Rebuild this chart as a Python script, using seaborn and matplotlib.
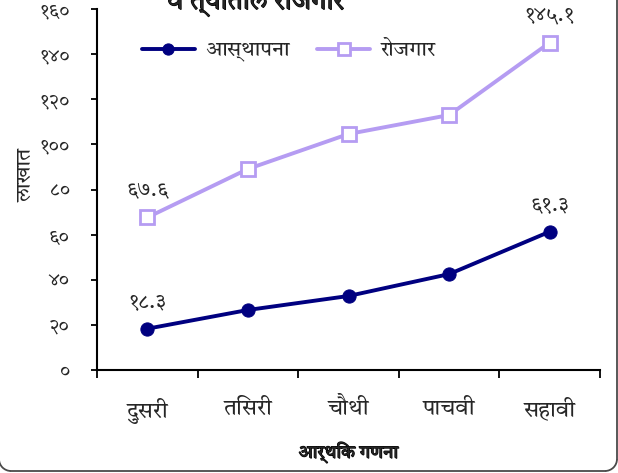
import matplotlib
matplotlib.use("Agg")
import matplotlib.pyplot as plt
from matplotlib import font_manager
from matplotlib.patches import Arc
from matplotlib.lines import Line2D
import matplotlib.patheffects as pe
import seaborn as sns
import pandas as pd

# Census rounds (x axis) and the two series, in lakhs
censuses = ["दुसरी", "तिसरी", "चौथी", "पाचवी", "सहावी"]
establishments = [18.3, 26.6, 32.8, 42.5, 61.3]
employment = [67.6, 89.1, 104.6, 113.0, 145.1]
series_names = ["आस्थापना", "रोजगार"]
y_ticks = [0, 20, 40, 60, 80, 100, 120, 140, 160]

title_text = "व त्यातील रोजगार"
x_label = "आर्थिक गणना"
y_label = "लाखात"

DEV_DIGITS = str.maketrans("0123456789", "०१२३४५६७८९")


def dev(s):
    return str(s).translate(DEV_DIGITS)


def find_devanagari_font():
    try:
        from fontTools.ttLib import TTFont
    except Exception:
        return None
    found = []
    for path in font_manager.findSystemFonts():
        try:
            f = TTFont(path, fontNumber=0, lazy=True)
            cmap = f.getBestCmap() or {}
            if ord("आ") in cmap and ord("१") in cmap:
                found.append(path)
        except Exception:
            continue
    if not found:
        return None
    for p in found:
        try:
            font_manager.fontManager.addfont(p)
        except Exception:
            pass
    found.sort(key=lambda p: (0 if "Devanagari" in p else 1, 0 if "Regular" in p else 1))
    return font_manager.FontProperties(fname=found[0]).get_name()


sns.set_style("white")
dev_font = find_devanagari_font()
families = ([dev_font] if dev_font else []) + ["DejaVu Sans"]
plt.rcParams["font.family"] = families

NAVY = "#000080"
LAVENDER = "#B59CF2"
FRAME = "#4a4a4a"
# thickened strokes for the bold headings
BOLD = [pe.withStroke(linewidth=0.9, foreground="black")]

fig = plt.figure(figsize=(6.18, 4.73), dpi=100)
ax = fig.add_axes([97 / 618, 1 - 370 / 473, 503 / 618, 361 / 473])

df_est = pd.DataFrame({"census": censuses, "value": establishments})
df_emp = pd.DataFrame({"census": censuses, "value": employment})

sns.lineplot(data=df_est, x="census", y="value", ax=ax, color=NAVY, linewidth=2.8,
             marker="o", markersize=9.5, markerfacecolor=NAVY, markeredgecolor=NAVY,
             label=series_names[0])
sns.lineplot(data=df_emp, x="census", y="value", ax=ax, color=LAVENDER, linewidth=2.8,
             marker="s", markersize=9.5, markerfacecolor="white", markeredgecolor=LAVENDER,
             markeredgewidth=2, label=series_names[1])

ax.set_xlim(-0.5, len(censuses) - 0.5)
ax.set_ylim(0, 160)
ax.set_yticks(y_ticks)
ax.set_yticklabels([dev(t) for t in y_ticks], fontsize=14)
ax.set_xticks(range(len(censuses)))
ax.set_xticklabels(censuses, fontsize=16)
ax.set_xticks([i - 0.5 for i in range(len(censuses) + 1)], minor=True)
ax.tick_params(axis="x", which="major", bottom=True, length=0, pad=20)
ax.tick_params(axis="x", which="minor", bottom=True, length=6, width=1.3,
               color="black", direction="out")
ax.tick_params(axis="y", which="major", left=True, length=4.5, width=1.3,
               color="black", direction="out", pad=15)

for side in ["top", "right"]:
    ax.spines[side].set_visible(False)
for side in ["left", "bottom"]:
    ax.spines[side].set_color("black")
    ax.spines[side].set_linewidth(1.5)

xl = ax.set_xlabel(x_label, fontsize=13, fontweight="bold", labelpad=13)
xl.set_path_effects(BOLD)
ax.set_ylabel(y_label, fontsize=15)
ax.yaxis.set_label_coords(-0.121, 0.54)

# Value labels at the first and last points of each series
for vals in (establishments, employment):
    for i in (0, len(vals) - 1):
        ax.annotate(dev(f"{vals[i]:.1f}"), (i, vals[i]), xytext=(0, 12),
                    textcoords="offset points", ha="center", va="bottom", fontsize=15)

leg = ax.legend(loc="upper left", bbox_to_anchor=(0.052, 0.965), ncol=2, frameon=False,
                fontsize=15, handlelength=2.55, columnspacing=1.3, handletextpad=0.5,
                markerscale=0.85)

title = fig.text(256 / 618, 1 - 9 / 473, title_text, ha="center", va="baseline",
                 fontsize=19, fontweight="bold")
title.set_path_effects(BOLD)

# Rounded frame around the chart, laid out in inches so the corners stay circular
tr = fig.dpi_scale_trans
r = 0.12
left_x, right_x, bottom_y, top_y = -0.01, 6.17, 0.02, 4.8
frame_kw = dict(color=FRAME, linewidth=1.3, transform=tr, clip_on=False)
fig.add_artist(Line2D([left_x + r, right_x - r], [bottom_y, bottom_y], **frame_kw))
fig.add_artist(Line2D([right_x, right_x], [bottom_y + r, top_y], **frame_kw))
fig.add_artist(Line2D([left_x, left_x], [bottom_y + r, top_y], **frame_kw))
fig.add_artist(Arc((left_x + r, bottom_y + r), 2 * r, 2 * r, theta1=180, theta2=270,
                   edgecolor=FRAME, linewidth=1.3, transform=tr, clip_on=False))
fig.add_artist(Arc((right_x - r, bottom_y + r), 2 * r, 2 * r, theta1=270, theta2=360,
                   edgecolor=FRAME, linewidth=1.3, transform=tr, clip_on=False))

fig.savefig("out.png", dpi=100)
